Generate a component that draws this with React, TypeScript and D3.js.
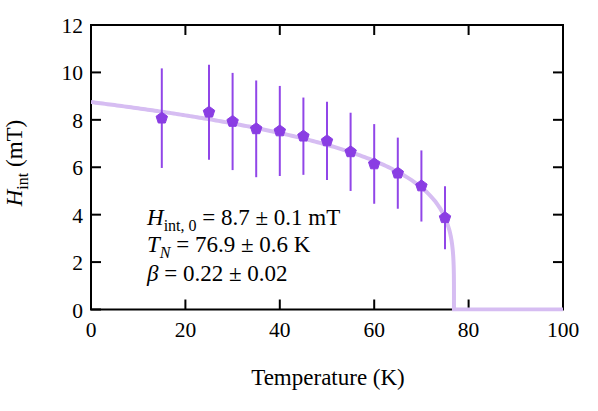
import React from "react";
import * as d3 from "d3";

const temps = [15, 25, 30, 35, 40, 45, 50, 55, 60, 65, 70, 75];
const hint = [8.07, 8.32, 7.93, 7.62, 7.53, 7.31, 7.11, 6.65, 6.14, 5.75, 5.21, 3.87];
const errs = [2.1, 2.0, 2.05, 2.04, 1.9, 1.63, 1.65, 1.65, 1.68, 1.5, 1.5, 1.33];
const fitParams = { H0: 8.75, TN: 76.9, beta: 0.22 };
const xTicks = [0, 20, 40, 60, 80, 100];
const yTicks = [0, 2, 4, 6, 8, 10, 12];

const W = 598, H = 411;
const L = 91, R = 563, T = 25, B = 309.5;
const FONT = "'Liberation Serif', 'Times New Roman', serif";

export default function App() {
  const x = d3.scaleLinear().domain([0, 100]).range([L, R]);
  const y = d3.scaleLinear().domain([0, 12]).range([B, T]);

  const { H0, TN, beta } = fitParams;
  const fitT: number[] = [];
  for (let t = 0; t < TN - 1; t += 0.5) fitT.push(t);
  for (let k = 0; k <= 60; k++) fitT.push(TN - 1 + (1 - Math.pow(1 - k / 60, 3)) * 1);
  const fitPts: [number, number][] = fitT.map((t) => [t, t < TN ? H0 * Math.pow(1 - t / TN, beta) : 0]);
  fitPts.push([TN, 0]);
  fitPts.push([100, 0]);
  const line = d3.line<[number, number]>().x((d) => x(d[0])).y((d) => y(d[1]));

  const pent = (cx: number, cy: number, r: number) =>
    d3.range(5).map((i) => {
      const a = -Math.PI / 2 + (i * 2 * Math.PI) / 5;
      return `${cx + r * Math.cos(a)},${cy + r * Math.sin(a)}`;
    }).join(" ");

  const tickLen = 10;
  const purple = "#8a3de3";
  const bar = "#9146e8";

  return (
    <div style={{ position: "fixed", left: 0, top: 0 }}>
      <svg width={W} height={H} style={{ display: "block", background: "#fff", fontFamily: FONT }}>
        <defs>
          <clipPath id="plot">
            <rect x={L} y={T - 2} width={R - L + 1} height={B - T + 4} />
          </clipPath>
        </defs>
        {xTicks.map((v) => (
          <g key={"xt" + v}>
            <line x1={x(v)} x2={x(v)} y1={B} y2={B - tickLen} stroke="#000" strokeWidth={2} />
            <line x1={x(v)} x2={x(v)} y1={T} y2={T + tickLen} stroke="#000" strokeWidth={2} />
            <text x={x(v)} y={337} textAnchor="middle" fontSize={21.5}>{v}</text>
          </g>
        ))}
        {yTicks.map((v) => (
          <g key={"yt" + v}>
            <line x1={L} x2={L + tickLen} y1={y(v)} y2={y(v)} stroke="#000" strokeWidth={2} />
            <line x1={R} x2={R - tickLen} y1={y(v)} y2={y(v)} stroke="#000" strokeWidth={2} />
            <text x={83} y={y(v) + 8} textAnchor="end" fontSize={21.5}>{v}</text>
          </g>
        ))}
        <rect x={L} y={T} width={R - L} height={B - T} fill="none" stroke="#000" strokeWidth={2} />
        <path d={line(fitPts) || ""} fill="none" stroke="#d6bdf2" strokeWidth={4} clipPath="url(#plot)" />
        {temps.map((t, i) => (
          <line key={"e" + i} x1={x(t)} x2={x(t)} y1={y(hint[i] - errs[i])} y2={y(hint[i] + errs[i])} stroke={bar} strokeWidth={2} />
        ))}
        {temps.map((t, i) => (
          <polygon key={"p" + i} points={pent(x(t), y(hint[i]), 6)} fill={purple} stroke={purple} strokeWidth={1} />
        ))}
        <g fontSize={23}>
          <text x={147} y={225}>
            <tspan fontStyle="italic">H</tspan>
            <tspan fontSize={16} dy={6}>int, 0</tspan>
            <tspan dy={-6}> = 8.7 ± 0.1 mT</tspan>
          </text>
          <text x={147} y={252}>
            <tspan fontStyle="italic">T</tspan>
            <tspan fontSize={16} fontStyle="italic" dy={6}>N</tspan>
            <tspan dy={-6}> = 76.9 ± 0.6 K</tspan>
          </text>
          <text x={147} y={281}>
            <tspan fontStyle="italic">β</tspan>
            <tspan> = 0.22 ± 0.02</tspan>
          </text>
        </g>
        <text x={328} y={385} textAnchor="middle" fontSize={23}>Temperature (K)</text>
        <text transform={`translate(22,163) rotate(-90)`} textAnchor="middle" fontSize={23}>
          <tspan fontStyle="italic">H</tspan>
          <tspan fontSize={16} dy={6}>int</tspan>
          <tspan dy={-6}> (mT)</tspan>
        </text>
      </svg>
    </div>
  );
}
